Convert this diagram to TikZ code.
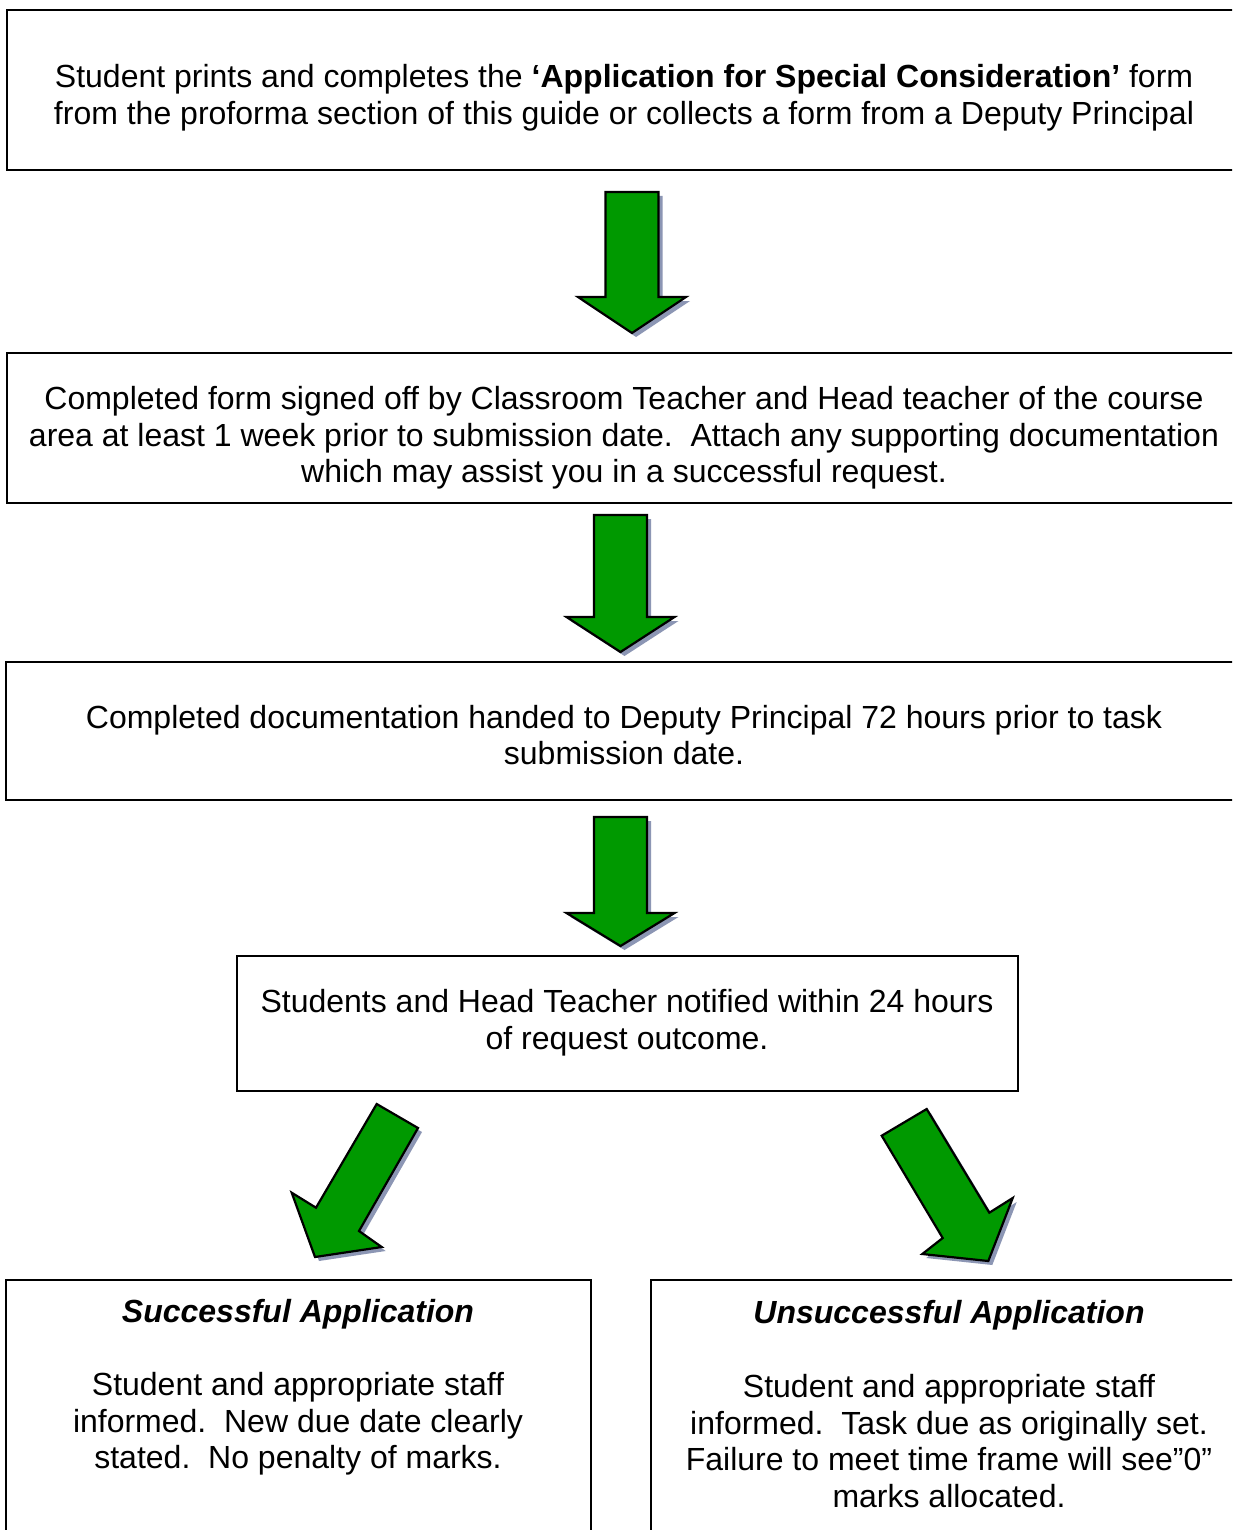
\documentclass[tikz,border=0pt]{standalone}
\usepackage{fontspec}
\setmainfont{Liberation Sans}
\definecolor{arrowgreen}{RGB}{0,153,0}
\definecolor{arrowshadow}{RGB}{140,150,180}
\newcommand\downblockpath[4]{(#1-26.5,#2) -- (#1+26.5,#2) -- (#1+26.5,#3) -- (#1+54,#3) -- (#1,#4) -- (#1-54,#3) -- (#1-26.5,#3) -- cycle}
\begin{document}
\begin{tikzpicture}[x=1pt,y=-1pt,
  box/.style={draw=black,line width=2.4pt,fill=white,inner sep=0pt},
  txt/.style={align=center,inner sep=0pt,font=\fontsize{32}{36.6}\selectfont},
  arrowshade/.style={fill=arrowshadow,shift={(4,4)}},
  blockarrow/.style={fill=arrowgreen,draw=black,line width=2.2pt,line join=miter}]
\useasboundingbox (0,0) rectangle (1232,1530);
\fill[white] (0,0) rectangle (1232,1530);
\clip (0,0) rectangle (1232,1530);

% boxes
\node[box,minimum width=1233pt,minimum height=160pt] (b1) at (623.5,90) {};
\node[box,minimum width=1233pt,minimum height=150pt] (b2) at (623.5,428) {};
\node[box,minimum width=1234pt,minimum height=138pt] (b3) at (623,731) {};
\node[box,minimum width=781pt,minimum height=135pt] (b4) at (627.5,1023.5) {};
\node[box,minimum width=585pt,minimum height=265pt] (b5) at (298.5,1412.5) {};
\node[box,minimum width=594pt,minimum height=265pt] (b6) at (948,1412.5) {};

% texts
\node[txt] (t1) at (624,97.5) {Student prints and completes the \textbf{‘Application for Special Consideration’} form\\from the proforma section of this guide or collects a form from a Deputy Principal};
\node[txt] (t2) at (624,438) {Completed form signed off by Classroom Teacher and Head teacher of the course\\area at least 1 week prior to submission date.\ \ Attach any supporting documentation\\which may assist you in a successful request.};
\node[txt] (t3) at (624,735) {Completed documentation handed to Deputy Principal 72 hours prior to task\\submission date.};
\node[txt] (t4) at (627,1022.5) {Students and Head Teacher notified within 24 hours\\of request outcome.};
\node[txt] (t5a) at (298,1314) {\textbf{\textit{Successful Application}}};
\node[txt] (t5b) at (298,1424) {Student and appropriate staff\\informed.\ \ New due date clearly\\stated.\ \ No penalty of marks.};
\node[txt] (t6a) at (949,1315) {\textbf{\textit{Unsuccessful Application}}};
\node[txt] (t6b) at (949,1441) {Student and appropriate staff\\informed.\ \ Task due as originally set.\\Failure to meet time frame will see”0”\\marks allocated.};

% vertical block arrows
\fill[arrowshade] \downblockpath{632}{192}{297}{333};
\draw[blockarrow] \downblockpath{632}{192}{297}{333};
\fill[arrowshade] \downblockpath{620.5}{515}{617}{652};
\draw[blockarrow] \downblockpath{620.5}{515}{617}{652};
\fill[arrowshade] \downblockpath{620.5}{817}{913}{946};
\draw[blockarrow] \downblockpath{620.5}{817}{913}{946};

% diagonal block arrows
\fill[arrowshade] (376.7,1104) -- (418,1128) -- (359,1231) -- (381.7,1247) -- (315,1257) -- (291.7,1192.7) -- (316,1207.7) -- cycle;
\draw[blockarrow] (376.7,1104) -- (418,1128) -- (359,1231) -- (381.7,1247) -- (315,1257) -- (291.7,1192.7) -- (316,1207.7) -- cycle;
\fill[arrowshade] (881.7,1135.7) -- (926.7,1109) -- (989.3,1212.7) -- (1012.7,1198) -- (988.3,1261) -- (922.3,1254) -- (942.7,1238) -- cycle;
\draw[blockarrow] (881.7,1135.7) -- (926.7,1109) -- (989.3,1212.7) -- (1012.7,1198) -- (988.3,1261) -- (922.3,1254) -- (942.7,1238) -- cycle;
\end{tikzpicture}
\end{document}
